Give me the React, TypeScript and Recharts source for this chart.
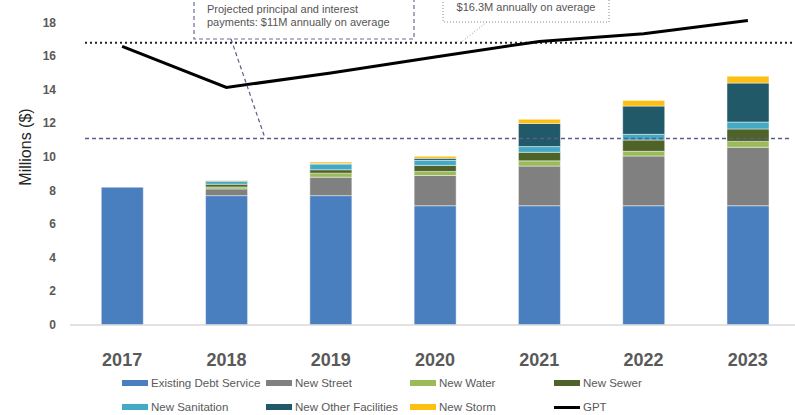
import React from "react";
import {
  ComposedChart,
  Bar,
  Line,
  XAxis,
  YAxis,
  ReferenceLine,
  Legend,
} from "recharts";

const years = ["2017", "2018", "2019", "2020", "2021", "2022", "2023"];
const existingDebt = [8.2, 7.7, 7.7, 7.1, 7.1, 7.1, 7.1];
const newStreet = [0, 0.4, 1.1, 1.8, 2.36, 2.96, 3.48];
const newWater = [0, 0.12, 0.24, 0.24, 0.31, 0.28, 0.35];
const newSewer = [0, 0.16, 0.2, 0.36, 0.51, 0.67, 0.74];
const newSanitation = [0, 0.18, 0.34, 0.3, 0.34, 0.34, 0.41];
const newOther = [0, 0.03, 0.03, 0.12, 1.38, 1.68, 2.32];
const newStorm = [0, 0.02, 0.09, 0.12, 0.24, 0.34, 0.41];
const gpt = [16.59, 14.14, 15.0, 15.95, 16.88, 17.34, 18.12];
const yTicks = [0, 2, 4, 6, 8, 10, 12, 14, 16, 18];
const avgRevenue = 16.8;
const avgPayments = 11.1;

const SERIES = [
  { key: "existing", name: "Existing Debt Service", color: "#4A7FBF" },
  { key: "street", name: "New Street", color: "#808080" },
  { key: "water", name: "New Water", color: "#9BBB59" },
  { key: "sewer", name: "New Sewer", color: "#4F6228" },
  { key: "sanitation", name: "New Sanitation", color: "#43A9C4" },
  { key: "other", name: "New Other Facilities", color: "#215968" },
  { key: "storm", name: "New Storm", color: "#FDBF12" },
];

const data = years.map((year, i) => ({
  year,
  existing: existingDebt[i],
  street: newStreet[i],
  water: newWater[i],
  sewer: newSewer[i],
  sanitation: newSanitation[i],
  other: newOther[i],
  storm: newStorm[i],
  gpt: gpt[i],
}));

const FONT = "'Liberation Sans', Arial, sans-serif";
const TOP_SHIFT = 40; // chart is cropped at the top, like the source image

const XTick = ({ x, y, payload }: any) => (
  <text x={x} y={y + 33} textAnchor="middle" fill="#595959" fontSize={18} fontWeight={700} fontFamily={FONT}>
    {payload.value}
  </text>
);

const YTick = ({ x, y, payload }: any) => (
  <text x={x - 6} y={y + 4} textAnchor="end" fill="#595959" fontSize={12} fontWeight={700} fontFamily={FONT}>
    {payload.value}
  </text>
);

const LegendContent = () => {
  const items = [...SERIES.map((s) => ({ name: s.name, color: s.color, line: false })), { name: "GPT", color: "#000", line: true }];
  return (
    <div style={{ position: "relative", width: 795, height: 46, fontFamily: FONT, fontSize: 11.5, color: "#595959" }}>
      {items.map((it, i) => {
        const col = i % 4;
        const row = Math.floor(i / 4);
        return (
          <div
            key={it.name}
            style={{ position: "absolute", left: 122 + col * 144, top: 8 + row * 24, display: "flex", alignItems: "center", whiteSpace: "nowrap" }}
          >
            <span style={{ display: "inline-block", width: 26, height: it.line ? 3 : 6, background: it.color, marginRight: 3 }} />
            {it.name}
          </div>
        );
      })}
    </div>
  );
};

const DottedRef = (props: any) => (
  <line x1={props.x1 + 15} y1={props.y1} x2={props.x2} y2={props.y2} stroke="#222" strokeWidth={2} strokeDasharray="2 3" />
);
const DashedRef = (props: any) => (
  <line x1={props.x1 + 15} y1={props.y1} x2={props.x2 - 10} y2={props.y2} stroke="#5C5C8A" strokeWidth={1.3} strokeDasharray="4 3" />
);

export default function App() {
  return (
    <div style={{ position: "absolute", left: 0, top: 0, width: 795, height: 415, overflow: "hidden", background: "#fff" }}>
      <div style={{ position: "absolute", left: 0, top: -TOP_SHIFT }}>
        <ComposedChart
          width={810}
          height={455}
          data={data}
          margin={{ top: 29, right: 10, bottom: 0, left: 0 }}
          barCategoryGap="30%"
        >
          <XAxis
            dataKey="year"
            tick={<XTick />}
            tickLine={false}
            axisLine={{ stroke: "#D9D9D9", strokeWidth: 1.5 }}
            height={44}
          />
          <YAxis
            domain={[0, 20]}
            ticks={yTicks}
            interval={0}
            tick={<YTick />}
            tickLine={false}
            axisLine={false}
            width={70}
            label={({ viewBox }: any) => (
              <text
                transform={`translate(${viewBox.x + 25}, ${viewBox.y + viewBox.height / 2 - 10}) rotate(-90)`}
                textAnchor="middle"
                dominantBaseline="central"
                fontSize={16}
                fill="#262626"
                fontFamily={FONT}
              >
                Millions ($)
              </text>
            )}
          />
          {SERIES.map((s) => (
            <Bar
              key={s.key}
              dataKey={s.key}
              name={s.name}
              stackId="debt"
              fill={s.color}
              stroke="rgba(255,255,255,0.45)"
              strokeWidth={1}
              isAnimationActive={false}
            />
          ))}
          <ReferenceLine y={avgPayments} shape={<DashedRef />} />
          <ReferenceLine y={avgRevenue} shape={<DottedRef />} />
          <Line
            type="linear"
            dataKey="gpt"
            name="GPT"
            stroke="#000"
            strokeWidth={3}
            dot={false}
            isAnimationActive={false}
          />
          <Legend content={<LegendContent />} wrapperStyle={{ left: 0, top: 409, width: 795, height: 46 }} />
        </ComposedChart>
      </div>
      <svg width={795} height={415} style={{ position: "absolute", left: 0, top: 0, pointerEvents: "none" }}>
        <rect x={194} y={-20} width={220} height={59} fill="#fff" stroke="#6B6B9B" strokeWidth={1.2} strokeDasharray="4 3" />
        <line x1={231} y1={39} x2={265} y2={138} stroke="#5C5C8A" strokeWidth={1.2} strokeDasharray="4 3" />
        <text x={207} y={13} fontSize={11} fill="#555" fontFamily={FONT}>Projected principal and interest</text>
        <text x={207} y={26} fontSize={11} fill="#555" fontFamily={FONT}>payments: $11M annually on average</text>
        <rect x={443} y={-20} width={166} height={42} fill="#fff" stroke="#888" strokeWidth={1} strokeDasharray="1 2" />
        <line x1={487} y1={22} x2={460} y2={43} stroke="#999" strokeWidth={1} strokeDasharray="1 2" />
        <text x={526} y={11} textAnchor="middle" fontSize={11} fill="#555" fontFamily={FONT}>$16.3M annually on average</text>
      </svg>
    </div>
  );
}
